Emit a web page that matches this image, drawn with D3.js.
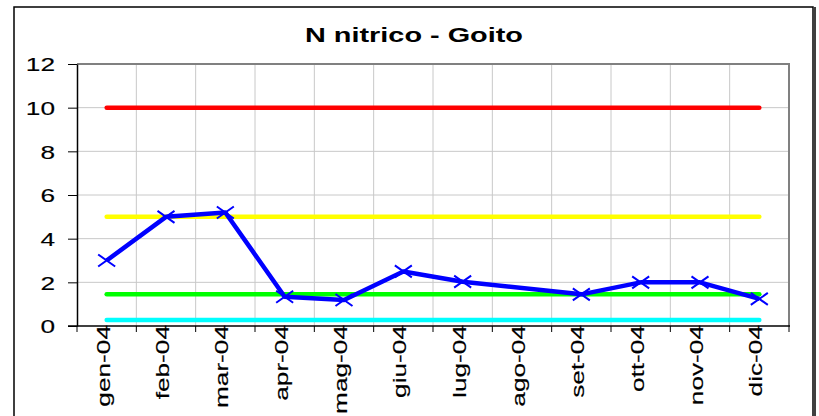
<!DOCTYPE html>
<html><head><meta charset="utf-8">
<script src="https://cdn.jsdelivr.net/npm/d3@7"></script>
<style>body{margin:0;background:#fff;} svg{display:block;font-family:"Liberation Sans",Arial,sans-serif;}</style>
</head><body>
<svg id="c" width="819" height="416"></svg>
<script>
const title = "N nitrico - Goito";
const months = ["gen-04","feb-04","mar-04","apr-04","mag-04","giu-04","lug-04","ago-04","set-04","ott-04","nov-04","dic-04"];
const values = [3.0, 5.0, 5.2, 1.34, 1.19, 2.5, 2.03, null, 1.45, 2.0, 2.0, 1.24];
const limitRed = 10, limitYellow = 5, limitGreen = 1.45, limitCyan = 0.27;
const yTicks = [0,2,4,6,8,10,12];

const svg = d3.select("#c");
const W = 819, H = 416;
const L = 77, R = 789, T = 64, B = 326;
const stretch = 1.38;
const x = d3.scaleBand().domain(months).range([L, R]).padding(0);
const y = d3.scaleLinear().domain([0, 12]).range([B, T]);
const cx = m => x(m) + x.bandwidth() / 2;

function stretchText(sel, f) {
  sel.each(function() {
    const n = this.getComputedTextLength();
    d3.select(this).attr("textLength", n * f).attr("lengthAdjust", "spacingAndGlyphs");
  });
}

// outer frame
svg.append("rect").attr("x", 14).attr("y", 7).attr("width", 799).attr("height", 430)
  .attr("fill", "#fff").attr("stroke", "#000").attr("stroke-width", 1.5);
svg.append("line").attr("x1", 814.5).attr("x2", 814.5).attr("y1", 7).attr("y2", H)
  .attr("stroke", "#404040").attr("stroke-width", 3);

// title
const tt = svg.append("text").attr("x", 414).attr("y", 41.5).attr("text-anchor", "middle")
  .attr("font-weight", "bold").attr("font-size", 20).text(title);
tt.attr("textLength", 218).attr("lengthAdjust", "spacingAndGlyphs");

// gridlines
const g = svg.append("g");
g.selectAll(".hg").data(yTicks.filter(v => v > 0 && v < 12)).join("line")
  .attr("x1", L).attr("x2", R).attr("y1", d => y(d)).attr("y2", d => y(d))
  .attr("stroke", "#c8c8c8").attr("stroke-width", 1);
g.selectAll(".vg").data(months.slice(1)).join("line")
  .attr("x1", d => x(d)).attr("x2", d => x(d)).attr("y1", T).attr("y2", B)
  .attr("stroke", "#c8c8c8").attr("stroke-width", 1);
// plot border top/right
svg.append("path").attr("d", `M${L},${T}H${R}V${B}`).attr("fill", "none")
  .attr("stroke", "#808080").attr("stroke-width", 2);

// y axis
const ya = svg.append("g").attr("transform", `translate(${L},0)`)
  .call(d3.axisLeft(y).tickValues(yTicks).tickSize(9).tickPadding(0).tickSizeOuter(0));
ya.select(".domain").attr("stroke", "#000").attr("stroke-width", 1.5);
ya.selectAll(".tick line").attr("stroke", "#000");
ya.selectAll(".tick text").attr("x", -22).attr("dy", "0.36em").attr("font-size", 19)
  .attr("fill", "#000").attr("stroke", "#000").attr("stroke-width", 0.15)
  .attr("font-family", '"Liberation Sans",Arial,sans-serif');
stretchText(ya.selectAll(".tick text"), stretch);

// x axis: line + ticks at band boundaries
const xa = svg.append("g");
xa.append("line").attr("x1", 68).attr("x2", R + 1).attr("y1", B).attr("y2", B)
  .attr("stroke", "#000").attr("stroke-width", 1.5);
const bounds = months.map(m => x(m)).concat([R]);
xa.selectAll(".xt").data(bounds).join("line")
  .attr("x1", d => d).attr("x2", d => d).attr("y1", B).attr("y2", B + 6)
  .attr("stroke", "#000").attr("stroke-width", 1);
const xl = xa.selectAll(".xl").data(months).join("text")
  .attr("transform", d => `translate(${cx(d) + 3},${B - 1}) rotate(-90)`)
  .attr("text-anchor", "end").attr("font-size", 19).attr("fill", "#000")
  .attr("stroke", "#000").attr("stroke-width", 0.15).text(d => d);
stretchText(xl, stretch);

// limit lines
const limits = [[limitCyan, "#00FFFF"], [limitGreen, "#00FF00"], [limitYellow, "#FFFF00"], [limitRed, "#FF0000"]];
svg.selectAll(".lim").data(limits).join("line")
  .attr("x1", cx(months[0])).attr("x2", cx(months[months.length - 1]))
  .attr("y1", d => y(d[0])).attr("y2", d => y(d[0]))
  .attr("stroke", d => d[1]).attr("stroke-width", 4.5).attr("stroke-linecap", "round");

// data series
const pts = months.map((m, i) => ({m, v: values[i]})).filter(d => d.v !== null);
svg.append("path").datum(pts)
  .attr("d", d3.line().x(d => cx(d.m)).y(d => y(d.v)))
  .attr("fill", "none").attr("stroke", "#0000FF").attr("stroke-width", 4.5).attr("stroke-linejoin", "round");
svg.selectAll(".mk").data(pts).join("path")
  .attr("transform", d => `translate(${cx(d.m)},${y(d.v)})`)
  .attr("d", "M-8.5,-6L8.5,6M-8.5,6L8.5,-6")
  .attr("stroke", "#0000FF").attr("stroke-width", 2).attr("fill", "none");
</script>
</body></html>
